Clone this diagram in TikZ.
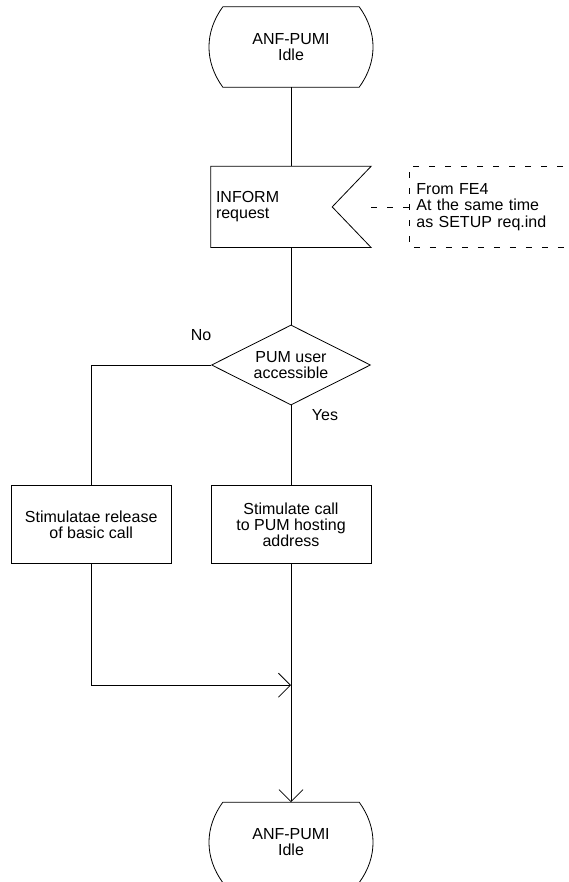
\documentclass[tikz,border=0pt]{standalone}
\usepackage{fontspec}
\setmainfont{Liberation Sans}
\usetikzlibrary{positioning, shapes.geometric, arrows.meta, calc}

\begin{document}
\begin{tikzpicture}[
    x=1pt, y=1pt,
    >={Straight Barb[length=12pt, width=24pt]}, % Open SDL arrow heads
    font=\fontsize{16}{16.3}\selectfont,
    % Styles
    state/.style={ % SDL state (outline drawn below)
        rectangle,
        minimum width=136pt,
        minimum height=80pt,
        align=center
    },
    input/.style={ % SDL input signal (outline drawn below)
        rectangle,
        minimum width=160pt,
        minimum height=81pt,
        text width=150pt,
        inner xsep=5pt,
        align=left
    },
    decision/.style={
        diamond,
        aspect=2,
        draw,
        line width=0.8pt,
        minimum width=159pt,
        minimum height=80pt,
        inner sep=0pt,
        align=center
    },
    task/.style={ % Tasks
        rectangle,
        draw,
        line width=0.8pt,
        minimum width=160pt,
        minimum height=78pt,
        align=center
    },
    note/.style={ % Comment text
        rectangle,
        minimum height=81pt,
        text width=150pt,
        inner xsep=7pt,
        align=left
    },
    link/.style={
        line width=0.8pt
    },
    arrow/.style={
        link,
        ->
    },
    commentline/.style={ % Dashed comment lines
        line width=0.6pt,
        dash pattern=on 6pt off 10pt
    }
]
    \useasboundingbox (0,0) rectangle (569,-882);

    % Flowchart nodes
    \node[state] (idle1) at (291,-47) {ANF-PUMI\\Idle};
    \node[input] (inform) [below=79pt of idle1] {INFORM\\request};
    \node[note] (fromfe) [right=38pt of inform] {From FE4\\At the same time\\as SETUP req.ind};
    \node[decision] (access) [below=77pt of inform] {PUM user\\accessible};
    \node[task] (hosting) [below=80pt of access] {Stimulate call\\to PUM hosting\\address};
    \node[task] (release) [left=39pt of hosting] {Stimulatae release\\of basic call};
    \node[state] (idle2) [below=238pt of hosting] {ANF-PUMI\\Idle};
    \coordinate (join) at ([yshift=-121pt]hosting.south);

    % Branch labels
    \node (no) at ([xshift=-10pt, yshift=30pt]access.west) {No};
    \node (yes) at ([xshift=34pt, yshift=-10pt]access.south) {Yes};

    % State and input outlines
    \foreach \s in {idle1, idle2}
        \draw[link] (\s.north west) -- (\s.north east) to[bend left=36] (\s.south east) -- (\s.south west) to[bend left=36] (\s.north west);
    \draw[link] (inform.north west) -- (inform.north east) -- ([xshift=-39pt]inform.east) -- (inform.south east) -- (inform.south west) -- cycle;
    \draw[commentline] ([xshift=170pt]fromfe.north west) -- (fromfe.north west) -- (fromfe.south west) -- ([xshift=170pt]fromfe.south west);

    % Flowchart edges
    \draw[link] (idle1) -- (inform);
    \draw[commentline] (inform.east) -- (fromfe.west);
    \draw[link] (inform) -- (access);
    \draw[link] (access.west) -| (release.north);
    \draw[link] (access.south) -- (hosting.north);
    \draw[arrow] (release.south) |- (join);
    \draw[arrow] (hosting.south) -- (idle2.north);
\end{tikzpicture}
\end{document}
